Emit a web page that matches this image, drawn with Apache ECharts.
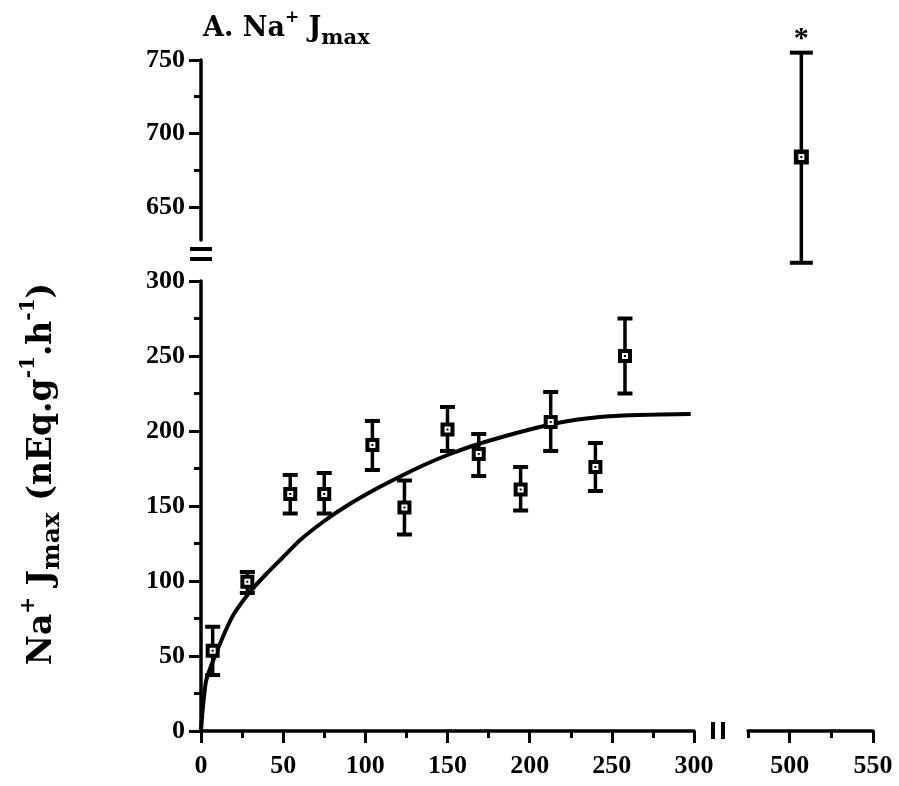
<!DOCTYPE html>
<html>
<head>
<meta charset="utf-8">
<script src="https://cdn.jsdelivr.net/npm/echarts@6/dist/echarts.min.js"></script>
<style>
  html, body { margin: 0; padding: 0; background: #fff; }
  #chart { width: 899px; height: 786px; }
</style>
</head>
<body>
<div id="chart"></div>
<script>
// Na+ concentration and measured Jmax, with the ends of each error bar
const concentration = [7.1, 28.2, 54.3, 75, 104.3, 123.8, 150, 169, 194.5, 212.8, 240, 258];
const jmax          = [53.5, 99.5, 158, 158, 190.7, 149, 201, 184.7, 161, 206, 176, 250];
const jmaxHigh      = [69.5, 106, 170.7, 172, 206.7, 167, 216, 198, 176, 226, 192, 275];
const jmaxLow       = [37.3, 92, 145, 145, 174, 131, 186.7, 170, 147, 186.7, 160, 225];

// high-concentration point, drawn past the axis breaks
const farConcentration = [507];
const farJmax          = [684];
const farHigh          = [755];
const farLow           = [612];
const farMark          = ['*'];

// fitted saturation curve, traced as points
const fitX = [0, 1, 3, 6, 10, 15, 20, 30, 40, 50, 60, 75, 90, 105, 120, 135, 150, 165, 180, 200, 220, 240, 260, 280, 298];
const fitY = [0, 14, 33, 43, 54, 67, 78, 93, 105, 116, 127, 140, 151, 160.5, 169, 177, 184, 190, 195, 201, 206, 209, 210.5, 211, 211.3];

// axis ranges and tick positions
const lowerXRange = [0, 300];
const farXRange   = [475, 550];
const lowerYRange = [0, 300];
const upperYRange = [627.5, 750];
const lowerXTicks = [0, 50, 100, 150, 200, 250, 300];
const lowerXMinor = [25, 75, 125, 175, 225, 275];
const farXTicks   = [500, 550];
const farXMinor   = [475, 525];
const lowerYTicks = [0, 50, 100, 150, 200, 250, 300];
const lowerYMinor = [25, 75, 125, 175, 225, 275];
const upperYTicks = [650, 700, 750];
const upperYMinor = [675, 725];

// text
const titleText = '{b|A. Na}{sup|+}{b| J}{sub|max}';
const yNameText = '{b|Na}{sup|+}{b| J}{sub|max}{b| (nEq.g}{sup|-1}{b|.h}{sup|-1}{b|)}';

const DIGIT_FONT = 'Liberation Serif';
const TEXT_FONT = 'DejaVu Serif';
const INK = '#000';

const L = {
  left: 201, mainWidth: 493,
  farLeft: 748, farWidth: 125,
  lowerTop: 281, lowerHeight: 450,
  upperTop: 60, upperHeight: 180
};

const lineStyle = { color: INK, width: 3.5 };
const tickStyle = { color: INK, width: 3 };
const labelStyle = { color: INK, fontFamily: DIGIT_FONT, fontWeight: 'bold', fontSize: 26 };

function mainAxis(opts) {
  return Object.assign({
    type: 'value',
    axisLine: { show: true, onZero: false, lineStyle: lineStyle },
    axisTick: { show: true, length: 12, customValues: opts.ticks, lineStyle: tickStyle },
    axisLabel: Object.assign({ show: true, customValues: opts.ticks, margin: opts.margin }, labelStyle),
    splitLine: { show: false }
  }, opts.base);
}
function minorAxis(opts) {
  return Object.assign({
    type: 'value',
    axisLine: { show: false, onZero: false },
    axisTick: { show: true, length: 7, customValues: opts.ticks, lineStyle: tickStyle },
    axisLabel: { show: false },
    splitLine: { show: false }
  }, opts.base);
}
function hiddenAxis(base) {
  return Object.assign({ type: 'value', show: false, splitLine: { show: false } }, base);
}

// error bar with a hollow square marker; optional annotation above the top cap
function errorBarItem(capHalf, boxHalf, marks) {
  return function (params, api) {
    const x = api.value(0), y = api.value(1), lo = api.value(2), hi = api.value(3);
    const c = api.coord([x, y]);
    const pLo = api.coord([x, lo]);
    const pHi = api.coord([x, hi]);
    const children = [
      { type: 'line', shape: { x1: c[0], y1: pHi[1], x2: c[0], y2: pLo[1] }, style: { stroke: INK, lineWidth: 3.5 } },
      { type: 'line', shape: { x1: c[0] - capHalf, y1: pHi[1], x2: c[0] + capHalf, y2: pHi[1] }, style: { stroke: INK, lineWidth: 4 } },
      { type: 'line', shape: { x1: c[0] - capHalf, y1: pLo[1], x2: c[0] + capHalf, y2: pLo[1] }, style: { stroke: INK, lineWidth: 4 } },
      { type: 'rect', shape: { x: c[0] - boxHalf, y: c[1] - boxHalf, width: boxHalf * 2, height: boxHalf * 2 }, style: { fill: INK } },
      { type: 'rect', shape: { x: c[0] - 3, y: c[1] - 3, width: 6, height: 6 }, style: { fill: '#fff' } },
      { type: 'rect', shape: { x: c[0] - 1, y: c[1] - 1, width: 2, height: 2 }, style: { fill: INK } }
    ];
    if (marks && marks[params.dataIndex]) {
      children.push({
        type: 'text',
        style: {
          text: marks[params.dataIndex], x: c[0], y: pHi[1] + 2,
          align: 'center', verticalAlign: 'bottom',
          fontFamily: DIGIT_FONT, fontWeight: 'bold', fontSize: 30, fill: INK
        }
      });
    }
    return { type: 'group', children: children };
  };
}

const chart = echarts.init(document.getElementById('chart'), null, { renderer: 'canvas' });

const option = {
  backgroundColor: '#fff',
  animation: false,
  title: {
    text: titleText,
    left: 198, top: 4,
    textStyle: {
      rich: {
        b: { fontFamily: TEXT_FONT, fontWeight: 'bold', fontSize: 27, color: INK, lineHeight: 40 },
        sup: { fontFamily: TEXT_FONT, fontWeight: 'bold', fontSize: 17, color: INK, lineHeight: 24, verticalAlign: 'top' },
        sub: { fontFamily: TEXT_FONT, fontWeight: 'bold', fontSize: 21, color: INK, lineHeight: 24, verticalAlign: 'bottom' }
      }
    }
  },
  grid: [
    { left: L.left, top: L.lowerTop, width: L.mainWidth, height: L.lowerHeight },
    { left: L.farLeft, top: L.lowerTop, width: L.farWidth, height: L.lowerHeight },
    { left: L.farLeft, top: L.upperTop, width: L.farWidth, height: L.upperHeight }
  ],
  xAxis: [
    mainAxis({ ticks: lowerXTicks, margin: 22, base: { gridIndex: 0, position: 'bottom', min: lowerXRange[0], max: lowerXRange[1] } }),
    minorAxis({ ticks: lowerXMinor, base: { gridIndex: 0, position: 'bottom', min: lowerXRange[0], max: lowerXRange[1] } }),
    mainAxis({ ticks: farXTicks, margin: 22, base: { gridIndex: 1, position: 'bottom', min: farXRange[0], max: farXRange[1] } }),
    minorAxis({ ticks: farXMinor, base: { gridIndex: 1, position: 'bottom', min: farXRange[0], max: farXRange[1] } }),
    hiddenAxis({ gridIndex: 2, min: farXRange[0], max: farXRange[1] })
  ],
  yAxis: [
    mainAxis({ ticks: lowerYTicks, margin: 16, base: { gridIndex: 0, position: 'left', min: lowerYRange[0], max: lowerYRange[1] } }),
    minorAxis({ ticks: lowerYMinor, base: { gridIndex: 0, position: 'left', min: lowerYRange[0], max: lowerYRange[1] } }),
    hiddenAxis({ gridIndex: 1, min: lowerYRange[0], max: lowerYRange[1] }),
    mainAxis({ ticks: upperYTicks, margin: 16, base: { gridIndex: 2, position: 'left', offset: L.farLeft - L.left, min: upperYRange[0], max: upperYRange[1] } }),
    minorAxis({ ticks: upperYMinor, base: { gridIndex: 2, position: 'left', offset: L.farLeft - L.left, min: upperYRange[0], max: upperYRange[1] } })
  ],
  graphic: [
    // vertical axis text
    {
      type: 'text', x: 42, y: 474, rotation: Math.PI / 2,
      style: {
        text: yNameText, align: 'center', verticalAlign: 'middle',
        rich: {
          b: { fontFamily: TEXT_FONT, fontWeight: 'bold', fontSize: 33, fill: INK, lineHeight: 46 },
          sup: { fontFamily: TEXT_FONT, fontWeight: 'bold', fontSize: 20, fill: INK, lineHeight: 27, verticalAlign: 'top' },
          sub: { fontFamily: TEXT_FONT, fontWeight: 'bold', fontSize: 25, fill: INK, lineHeight: 29, verticalAlign: 'bottom' }
        }
      }
    },
    // break marks on the value axis
    { type: 'line', shape: { x1: L.left - 11, y1: 249, x2: L.left + 11, y2: 249 }, style: { stroke: INK, lineWidth: 4 } },
    { type: 'line', shape: { x1: L.left - 11, y1: 259, x2: L.left + 11, y2: 259 }, style: { stroke: INK, lineWidth: 4 } },
    // break marks on the concentration axis
    { type: 'line', shape: { x1: 713, y1: 722, x2: 713, y2: 739 }, style: { stroke: INK, lineWidth: 4 } },
    { type: 'line', shape: { x1: 723, y1: 722, x2: 723, y2: 739 }, style: { stroke: INK, lineWidth: 4 } }
  ],
  series: [
    {
      type: 'line', xAxisIndex: 0, yAxisIndex: 0,
      data: fitX.map((x, i) => [x, fitY[i]]),
      smooth: 0.15, symbol: 'none',
      lineStyle: { color: INK, width: 4, join: 'round' },
      z: 2
    },
    {
      type: 'custom', xAxisIndex: 0, yAxisIndex: 0,
      data: concentration.map((x, i) => [x, jmax[i], jmaxLow[i], jmaxHigh[i]]),
      encode: { x: 0, y: [1, 2, 3] },
      renderItem: errorBarItem(7.5, 7, null),
      z: 5
    },
    {
      type: 'custom', xAxisIndex: 4, yAxisIndex: 3,
      data: farConcentration.map((x, i) => [x, farJmax[i], farLow[i], farHigh[i]]),
      encode: { x: 0, y: [1, 2, 3] },
      renderItem: errorBarItem(11.5, 7.5, farMark),
      clip: false,
      z: 5
    }
  ]
};

chart.setOption(option);
</script>
</body>
</html>
